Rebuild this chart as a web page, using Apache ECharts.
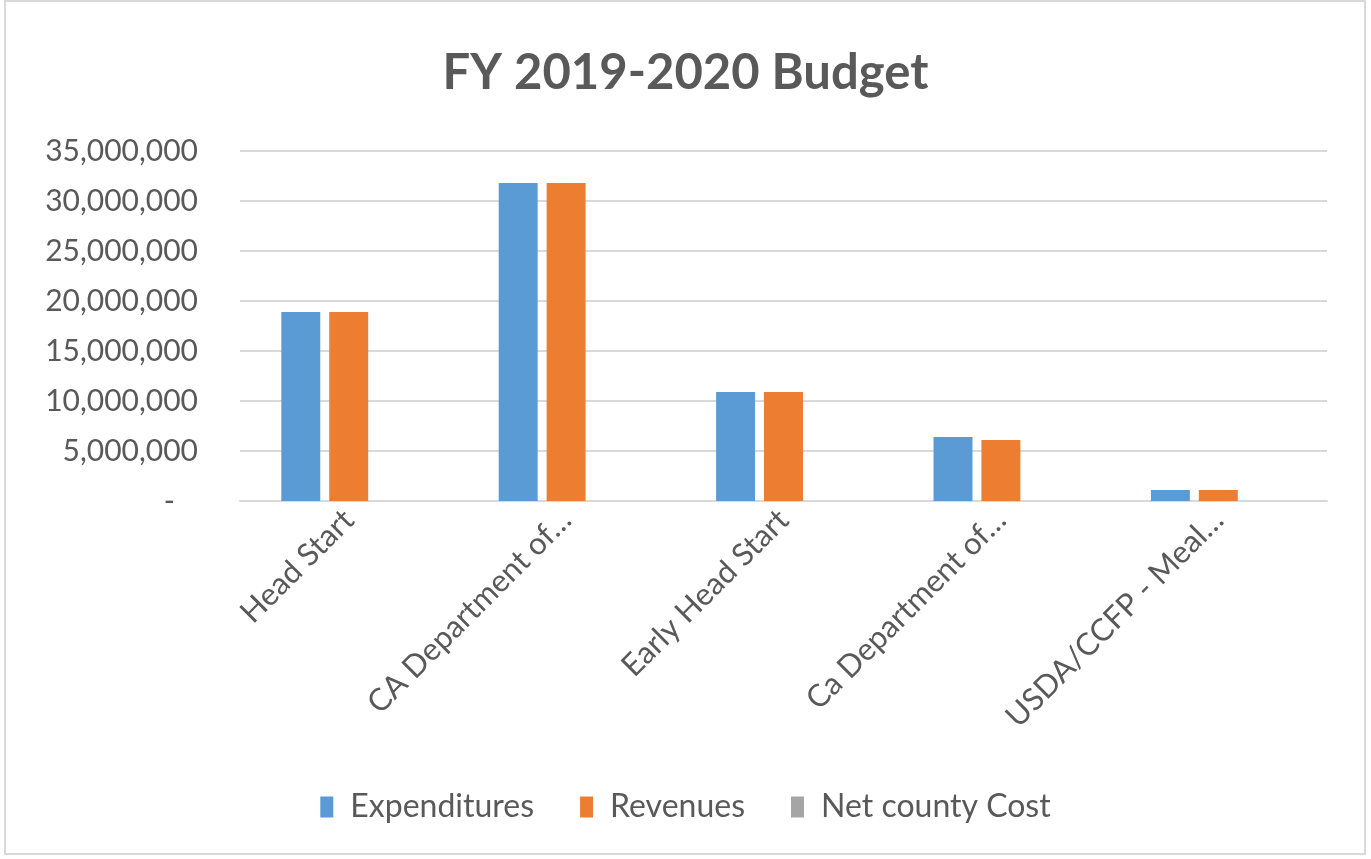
<!DOCTYPE html>
<html><head><meta charset="utf-8">
<script src="https://cdn.jsdelivr.net/npm/echarts@6/dist/echarts.min.js"></script>
<style>
html,body{margin:0;padding:0;background:#fff;}
#frame{position:absolute;left:4px;top:0px;width:1362px;height:855px;border:2px solid #d9d9d9;box-sizing:border-box;}
#chart{position:absolute;left:0;top:0;width:1371px;height:859px;}
</style></head>
<body>
<div id="frame"></div>
<div id="chart"></div>
<script>
const titleText = 'FY 2019-2020 Budget';
const categories = ['Head Start', 'CA Department of…', 'Early Head Start', 'Ca Department of…', 'USDA/CCFP - Meal…'];
const expenditures = [18900000, 31800000, 10900000, 6400000, 1100000];
const revenues = [18900000, 31800000, 10900000, 6100000, 1100000];
const netCountyCost = [0, 0, 0, -250000, 0];
const seriesNames = ['Expenditures', 'Revenues', 'Net county Cost'];
const yTicks = {min: 0, max: 35000000, interval: 5000000};

const FONT = 'Lato, "Open Sans", sans-serif';
const chart = echarts.init(document.getElementById('chart'));
chart.setOption({
  animation: false,
  title: {text: titleText, left: 'center', top: 44,
    textStyle: {fontFamily: FONT, fontSize: 49, fontWeight: 'bold', color: '#595959'}},
  color: ['#5b9bd5', '#ed7d31', '#a5a5a5'],
  legend: {bottom: 31, left: 'center', itemWidth: 13, itemHeight: 21, itemGap: 46,
    icon: 'rect', textStyle: {fontFamily: FONT, fontSize: 32, color: '#595959', padding: [0, 0, 0, 12]}},
  grid: {left: 240, right: 44, top: 151, bottom: 358, containLabel: false},
  xAxis: {type: 'category', data: categories,
    axisLine: {lineStyle: {color: '#d9d9d9', width: 2}}, axisTick: {show: false},
    axisLabel: {rotate: 45, interval: 0, fontFamily: FONT, fontSize: 31, color: '#595959', margin: 14}},
  yAxis: {type: 'value', min: yTicks.min, max: yTicks.max, interval: yTicks.interval,
    axisLine: {show: false}, axisTick: {show: false},
    splitLine: {lineStyle: {color: '#d9d9d9', width: 2}},
    axisLabel: {fontFamily: FONT, fontSize: 30, color: '#595959', margin: 42,
      formatter: v => v === 0 ? '-   ' : v.toLocaleString('en-US')}},
  series: [
    {name: seriesNames[0], type: 'bar', data: expenditures, barGap: '23%', barCategoryGap: '38%'},
    {name: seriesNames[1], type: 'bar', data: revenues, barGap: '23%', barCategoryGap: '38%'},
    {name: seriesNames[2], type: 'bar', data: netCountyCost, barGap: '23%', barCategoryGap: '38%'}
  ]
});
</script>
</body></html>
